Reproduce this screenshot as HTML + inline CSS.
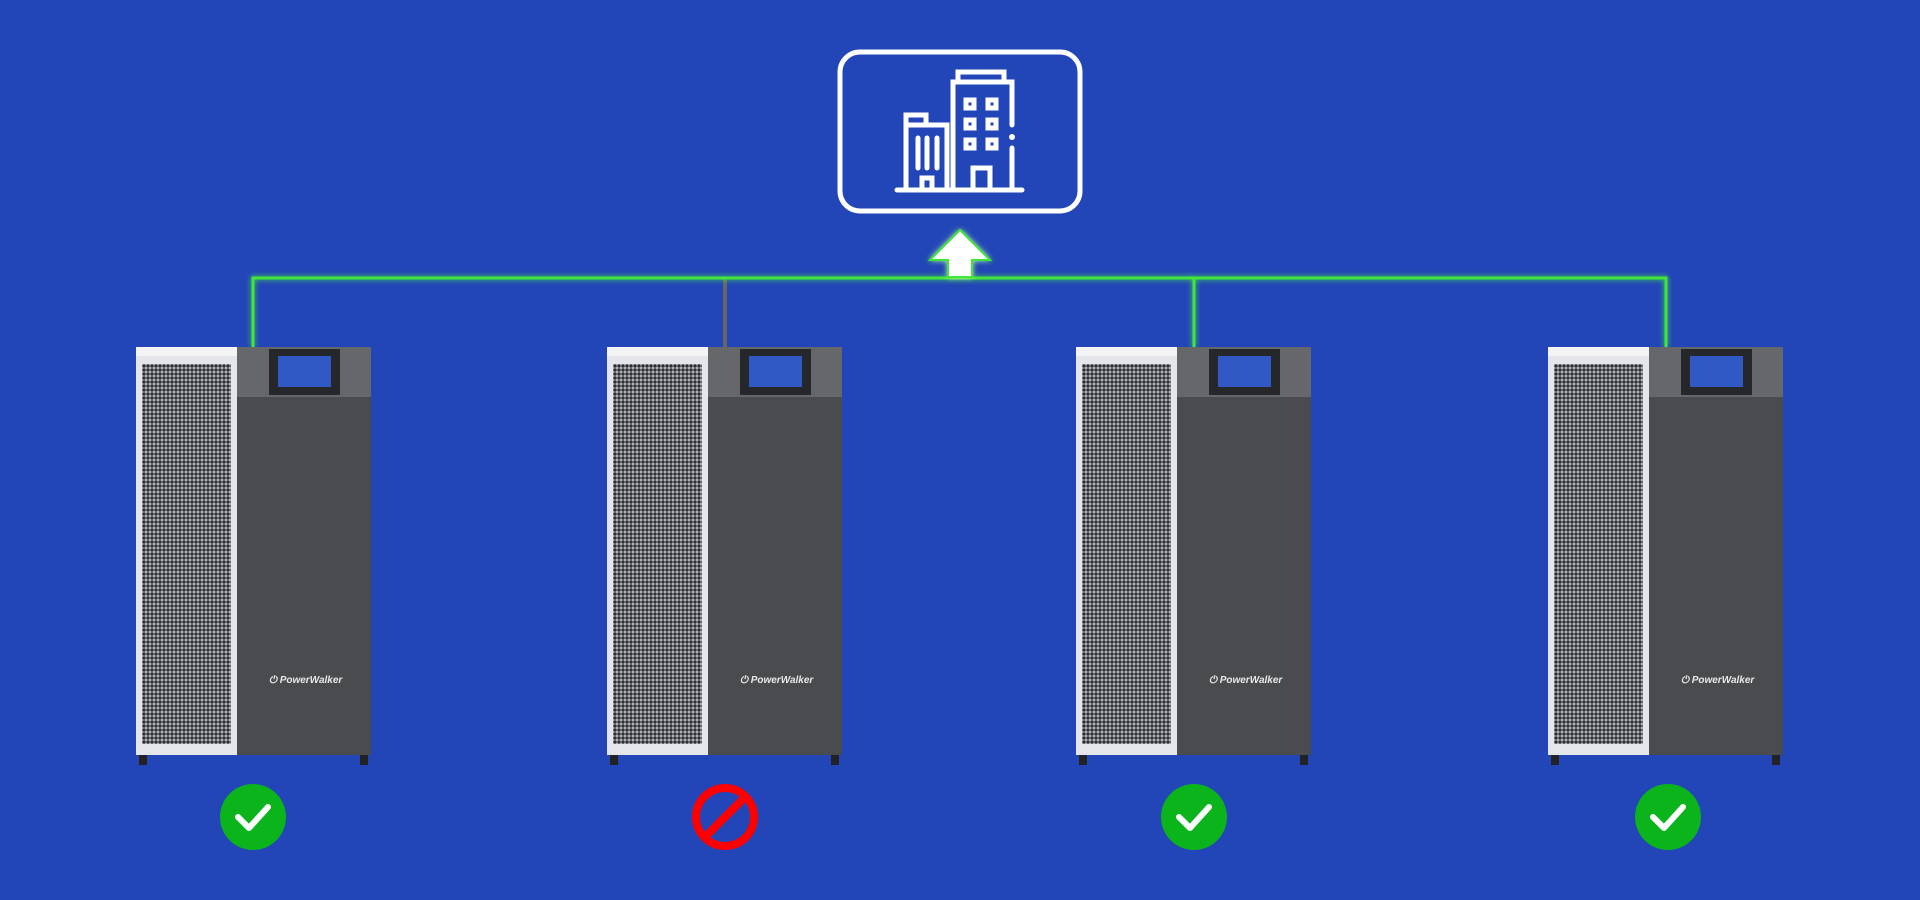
<!DOCTYPE html>
<html><head><meta charset="utf-8"><style>
html,body{margin:0;padding:0}
body{width:1920px;height:900px;background:#2245b8;position:relative;overflow:hidden;font-family:"Liberation Sans",sans-serif}
.u{position:absolute;top:347px;width:235px;height:408px}
.l{position:absolute;left:0;top:0;width:101px;height:408px;background:#e4e6ea}
.l .t{position:absolute;left:0;top:0;width:101px;height:9px;background:#f4f4f4}
.l .p{position:absolute;left:6px;top:17px;width:89px;height:380px;background-color:#b8babd;
background-image:radial-gradient(circle,#2c2e32 1.5px,transparent 1.9px);background-size:4px 4px}
.r{position:absolute;left:101px;top:0;width:134px;height:408px;background:#4a4b4e}
.r .h{position:absolute;left:0;top:0;width:134px;height:50px;background:#66676a}
.r .s{position:absolute;left:32px;top:2px;width:71px;height:46px;background:#26272a}
.r .s i{position:absolute;left:9px;top:7px;width:53px;height:31px;background:#3159c6}
.logo{position:absolute;left:32px;top:328px;color:#e8e8e8;font-size:10px;font-style:italic;font-weight:bold}
.f{position:absolute;top:408px;width:8px;height:10px;background:#222}
</style></head><body>
<svg width="1920" height="900" style="position:absolute;left:0;top:0">
<defs><filter id="gl" x="-10%" y="-50%" width="120%" height="200%"><feGaussianBlur stdDeviation="3" result="b"/><feMerge><feMergeNode in="b"/><feMergeNode in="SourceGraphic"/></feMerge></filter></defs>
<line x1="725" y1="278" x2="725" y2="347" stroke="#666" stroke-width="4"/>
<g filter="url(#gl)" stroke="#43e63a" stroke-width="3" fill="none">
<polyline points="253,347 253,278 1666,278 1666,347"/>
<line x1="1194" y1="278" x2="1194" y2="347"/>
</g>
<path d="M960,230 L990,260 L972,260 L972,277 L948,277 L948,260 L930,260 Z" fill="#fff" stroke="#43e63a" stroke-width="2" filter="url(#gl)"/>
<rect x="840" y="52" width="240" height="159" rx="20" fill="none" stroke="#fff" stroke-width="5"/>
<g stroke="#fff" stroke-width="5" fill="none" stroke-linecap="round">
<line x1="897" y1="190" x2="1022" y2="190"/>
<polyline points="906,190 906,115 926,115 926,125"/>
<polyline points="906,125 947,125 947,190"/>
<line x1="918" y1="138" x2="918" y2="168"/><line x1="927" y1="138" x2="927" y2="168"/><line x1="937" y1="138" x2="937" y2="168"/>
<rect x="922" y="178" width="10" height="12"/>
<polyline points="953,190 953,82 1012,82 1012,125"/><line x1="1012" y1="148" x2="1012" y2="190"/>
<polyline points="958,82 958,72 1004,72 1004,82"/>
<rect x="966" y="100" width="8" height="8"/><rect x="988" y="100" width="8" height="8"/>
<rect x="966" y="120" width="8" height="8"/><rect x="988" y="120" width="8" height="8"/>
<rect x="966" y="140" width="8" height="8"/><rect x="988" y="140" width="8" height="8"/>
<rect x="973" y="168" width="17" height="22"/>
</g>
<circle cx="1012" cy="137" r="3" fill="#fff"/>
<g>
<circle cx="253" cy="817" r="33" fill="#0cb41c"/><polyline points="238,817 249,828 268,807" fill="none" stroke="#fff" stroke-width="6" stroke-linecap="round" stroke-linejoin="round"/>
<circle cx="1194" cy="817" r="33" fill="#0cb41c"/><polyline points="1179,817 1190,828 1209,807" fill="none" stroke="#fff" stroke-width="6" stroke-linecap="round" stroke-linejoin="round"/>
<circle cx="1668" cy="817" r="33" fill="#0cb41c"/><polyline points="1653,817 1664,828 1683,807" fill="none" stroke="#fff" stroke-width="6" stroke-linecap="round" stroke-linejoin="round"/>
<circle cx="725" cy="817" r="29" fill="none" stroke="#f00" stroke-width="8"/><line x1="746" y1="796" x2="704" y2="838" stroke="#f00" stroke-width="8"/>
</g>
</svg>
<div class="u" style="left:136px"><div class="l"><div class="t"></div><div class="p"></div></div><div class="r"><div class="h"></div><div class="s"><i></i></div><div class="logo">⏻ PowerWalker</div></div><div class="f" style="left:3px"></div><div class="f" style="left:224px"></div></div>
<div class="u" style="left:607px"><div class="l"><div class="t"></div><div class="p"></div></div><div class="r"><div class="h"></div><div class="s"><i></i></div><div class="logo">⏻ PowerWalker</div></div><div class="f" style="left:3px"></div><div class="f" style="left:224px"></div></div>
<div class="u" style="left:1076px"><div class="l"><div class="t"></div><div class="p"></div></div><div class="r"><div class="h"></div><div class="s"><i></i></div><div class="logo">⏻ PowerWalker</div></div><div class="f" style="left:3px"></div><div class="f" style="left:224px"></div></div>
<div class="u" style="left:1548px"><div class="l"><div class="t"></div><div class="p"></div></div><div class="r"><div class="h"></div><div class="s"><i></i></div><div class="logo">⏻ PowerWalker</div></div><div class="f" style="left:3px"></div><div class="f" style="left:224px"></div></div>
</body></html>
